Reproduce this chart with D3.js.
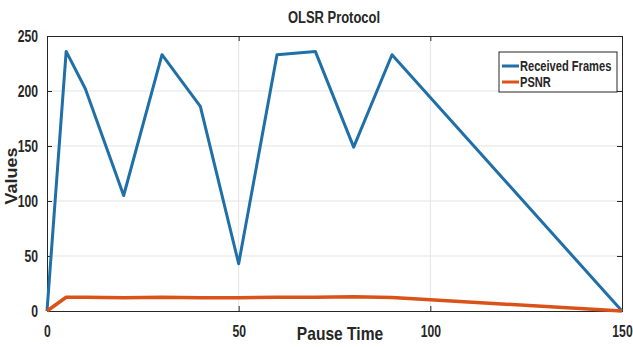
<!DOCTYPE html>
<html>
<head>
<meta charset="utf-8">
<script src="https://d3js.org/d3.v7.min.js"></script>
<style>
  body { margin: 0; background: #fff; }
  svg text { font-family: "Liberation Sans", Arial, sans-serif; font-weight: bold; fill: #262626; }
</style>
</head>
<body>
<svg width="633" height="347"></svg>
<script>
// data
var pauseTime      = [0, 5, 10, 20, 30, 40, 50, 60, 70, 80, 90, 100, 150];
var receivedFrames = [0, 236, 202, 105, 233, 186, 43, 233, 236, 149, 233, 194, 0];
var psnr           = [0, 12.5, 12.5, 12, 12.5, 12, 12, 12.5, 12.5, 13, 12.3, 10.3, 0];
var xTicks = [0, 50, 100, 150];
var yTicks = [0, 50, 100, 150, 200, 250];
var seriesNames = ["Received Frames", "PSNR"];
var seriesColors = ["#1f6fa8", "#d95319"];

var svg = d3.select("svg");
var margin = {left: 47, right: 11, top: 36, bottom: 36};
var width = 633 - margin.left - margin.right,
    height = 347 - margin.top - margin.bottom;

var x = d3.scaleLinear().domain([0, 150]).range([0, width]);
var y = d3.scaleLinear().domain([0, 250]).range([height, 0]);

// squeeze text horizontally, the reference uses a narrow font
function squeeze(sel, f) {
  sel.each(function() {
    var len = this.getComputedTextLength();
    d3.select(this).attr("textLength", len * f).attr("lengthAdjust", "spacingAndGlyphs");
  });
}

var g = svg.append("g").attr("transform", "translate(" + margin.left + "," + margin.top + ")");

// grid
g.append("g").selectAll("line").data(yTicks.slice(1, -1)).enter().append("line")
    .attr("x1", 0).attr("x2", width)
    .attr("y1", function(d) { return y(d); }).attr("y2", function(d) { return y(d); })
    .attr("stroke", "#e3e3e3");
g.append("g").selectAll("line").data(xTicks.slice(1, -1)).enter().append("line")
    .attr("y1", 0).attr("y2", height)
    .attr("x1", function(d) { return x(d); }).attr("x2", function(d) { return x(d); })
    .attr("stroke", "#e3e3e3");

// axes
g.append("g").attr("transform", "translate(0," + height + ")")
    .call(d3.axisBottom(x).tickValues(xTicks).tickSize(-5).tickPadding(15));
g.append("g")
    .call(d3.axisLeft(y).tickValues(yTicks).tickSize(-5).tickPadding(9));
g.append("g").attr("transform", "translate(" + width + ",0)")
    .call(d3.axisRight(y).tickValues(yTicks).tickSize(-5).tickFormat(""));
g.append("g")
    .call(d3.axisTop(x).tickValues(xTicks).tickSize(-5).tickFormat(""));
g.selectAll(".domain").attr("stroke", "#262626");
g.selectAll(".tick line").attr("stroke", "#262626");
g.selectAll(".tick text").attr("font-size", 16).attr("fill", "#262626")
    .style("font-family", '"Liberation Sans", Arial, sans-serif')
    .style("font-weight", "bold")
    .call(squeeze, 0.76);

// lines
var rows = pauseTime.map(function(t, i) { return {t: t, a: receivedFrames[i], b: psnr[i]}; });
var lineA = d3.line().x(function(d) { return x(d.t); }).y(function(d) { return y(d.a); });
var lineB = d3.line().x(function(d) { return x(d.t); }).y(function(d) { return y(d.b); });
g.append("path").datum(rows).attr("d", lineA).attr("fill", "none")
    .attr("stroke", seriesColors[0]).attr("stroke-width", 3).attr("stroke-linejoin", "round");
g.append("path").datum(rows).attr("d", lineB).attr("fill", "none")
    .attr("stroke", seriesColors[1]).attr("stroke-width", 3.5).attr("stroke-linejoin", "round");

// title and labels
svg.append("text").attr("x", 334).attr("y", 23).attr("text-anchor", "middle")
    .attr("font-size", 16).text("OLSR Protocol").call(squeeze, 0.81);
svg.append("text").attr("x", 340).attr("y", 340).attr("text-anchor", "middle")
    .attr("font-size", 19).text("Pause Time").call(squeeze, 0.82);
svg.append("text").attr("transform", "translate(17,176) rotate(-90)").attr("text-anchor", "middle")
    .attr("font-size", 16).text("Values").call(squeeze, 1.12);

// legend
var lg = svg.append("g").attr("transform", "translate(499,52)");
lg.append("rect").attr("width", 118).attr("height", 40)
    .attr("fill", "#fff").attr("stroke", "#262626").attr("stroke-width", 1);
seriesNames.forEach(function(name, i) {
  var yy = 14 + i * 16;
  lg.append("line").attr("x1", 3).attr("x2", 20).attr("y1", yy).attr("y2", yy)
      .attr("stroke", seriesColors[i]).attr("stroke-width", 3);
  lg.append("text").attr("x", 21).attr("y", yy + 5).attr("font-size", 15).text(name).call(squeeze, 0.74);
});
</script>
</body>
</html>
